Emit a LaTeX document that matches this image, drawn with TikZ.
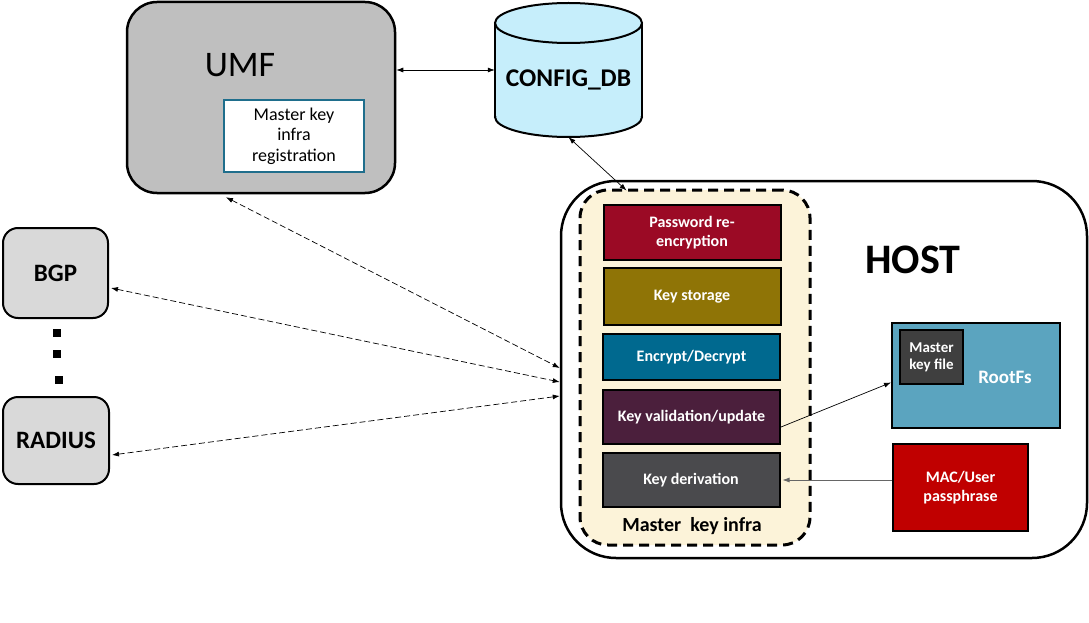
\documentclass[tikz,border=0pt]{standalone}
\usepackage{fontspec}
\setmainfont{Carlito}
\usetikzlibrary{arrows.meta,calc}

\definecolor{umfgray}{HTML}{BFBFBF}
\definecolor{regteal}{HTML}{1F6E8C}
\definecolor{dbblue}{HTML}{C6EEFB}
\definecolor{infracream}{HTML}{FCF3D9}
\definecolor{pwred}{HTML}{9B0A25}
\definecolor{ksolive}{HTML}{8F7406}
\definecolor{edteal}{HTML}{00698F}
\definecolor{kvplum}{HTML}{4B1F3C}
\definecolor{kdgray}{HTML}{4A4A4D}
\definecolor{rootblue}{HTML}{5BA4BF}
\definecolor{mkfgray}{HTML}{3F3F3F}
\definecolor{macred}{HTML}{C00000}
\definecolor{nodegray}{HTML}{D9D9D9}

\tikzset{
  bigbox/.style={draw=black, line width=2.5pt, inner sep=0pt},
  keybox/.style={draw=black, line width=2pt, text=white, align=center, minimum width=177pt,
    font=\fontsize{16}{18.5}\selectfont\bfseries},
  peerbox/.style={draw=black, line width=2pt, fill=nodegray, rounded corners=15pt,
    font=\fontsize{25}{28}\selectfont\bfseries},
  link/.style={line width=0.7pt, -{Latex[length=7pt,width=5pt]}},
  dlink/.style={line width=0.7pt, dash pattern=on 6pt off 3pt,
    {Latex[length=7pt,width=5pt]}-{Latex[length=7pt,width=5pt]}},
  blink/.style={line width=0.7pt, {Latex[length=7pt,width=5pt]}-{Latex[length=7pt,width=5pt]}}
}

\begin{document}
\begin{tikzpicture}[x=1pt,y=-1pt]
    \useasboundingbox (0,0) rectangle (1089,623);

    % UMF
    \node[bigbox, fill=umfgray, rounded corners=30pt, minimum width=268pt, minimum height=191pt] (umf) at (261,97.5) {};
    \node[font=\fontsize{36}{40}\selectfont] (umflbl) at (240,65) {UMF};
    \node[draw=regteal, line width=2pt, fill=white, minimum width=140pt, minimum height=72pt, align=center,
      font=\fontsize{18}{20.5}\selectfont] (reg) at (294,136) {Master key\\infra\\registration};

    % CONFIG_DB cylinder
    \fill[dbblue] (495,23) rectangle (642,117);
    \fill[dbblue] (568.5,117) ellipse [x radius=73.5pt, y radius=20pt];
    \draw[line width=2pt] (495,23) -- (495,117) (642,23) -- (642,117);
    \begin{scope}
      \clip (480,117) rectangle (660,150);
      \draw[line width=2pt] (568.5,117) ellipse [x radius=73.5pt, y radius=20pt];
    \end{scope}
    \draw[line width=2pt, fill=dbblue] (568.5,23) ellipse [x radius=73.5pt, y radius=20pt];
    \node[minimum width=147pt, minimum height=134pt] (db) at (568.5,70) {};
    \node[font=\fontsize{25.5}{28}\selectfont\bfseries] (dblbl) at (568.5,80) {CONFIG\_DB};

    % HOST
    \node[bigbox, fill=white, rounded corners=55pt, minimum width=526pt, minimum height=377pt] (host) at (824,369.5) {};
    \node[font=\fontsize{42}{46}\selectfont\bfseries] (hostlbl) at (913,260) {HOST};
    \node[draw=black, line width=3pt, dash pattern=on 10pt off 6pt, rounded corners=28pt, fill=infracream,
      minimum width=230pt, minimum height=355pt] (infra) at (695,367.5) {};
    \node[font=\fontsize{20}{24}\selectfont\bfseries] (infralbl) at (692,526) {Master\ \ key infra};

    \node[keybox, fill=pwred, minimum height=55pt] (pw) at (692,232.5) {Password re-\\encryption};
    \node[keybox, fill=ksolive, minimum height=57pt] (ks) at (692,296.5) {Key storage};
    \node[keybox, fill=edteal, minimum height=46pt] (ed) at (691.5,357) {Encrypt/Decrypt};
    \node[keybox, fill=kvplum, minimum height=54pt] (kv) at (691.5,417) {Key validation/update};
    \node[keybox, fill=kdgray, minimum height=54pt] (kd) at (691,480) {Key derivation};

    \node[draw=black, line width=2pt, fill=rootblue, minimum width=168pt, minimum height=105pt] (rootfs) at (976,375.5) {};
    \node[draw=black, line width=2pt, fill=mkfgray, text=white, align=center, minimum width=63pt, minimum height=54pt,
      inner sep=1pt, font=\fontsize{15}{17}\selectfont\bfseries] (mkf) at (931.5,357) {Master\\key file};
    \node[text=white, font=\fontsize{19}{22}\selectfont\bfseries] (rootlbl) at (1005,377) {RootFs};
    \node[draw=black, line width=2pt, fill=macred, text=white, align=center, minimum width=135pt, minimum height=87pt,
      font=\fontsize{16}{19}\selectfont\bfseries] (mac) at (960.5,487.5) {MAC/User\\passphrase};

    % peers
    \node[peerbox, minimum width=105pt, minimum height=90pt] (bgp) at (55.5,273) {BGP};
    \node[peerbox, minimum width=106pt, minimum height=87pt] (radius) at (56,440.5) {RADIUS};
    \foreach \x/\y in {57/333,57/354,59/380}
      \fill (\x-4,\y-4) rectangle (\x+4,\y+4);

    % links
    \draw[blink] (umf.east |- db.west) -- (db.west);
    \draw[blink] (db.south) -- ($(infra.north west)+(48,2)$);
    \draw[dlink] ($(umf.south)+(-35,3)$) -- ($(host.west)+(0,-1.5)$);
    \draw[dlink] ($(bgp.east)+(2,15)$) -- ($(host.west)+(0,12.5)$);
    \draw[dlink] ($(radius.east)+(2,14.5)$) -- ($(host.west)+(0,26.5)$);
    \draw[link] ($(kv.east)+(0,10)$) -- ($(rootfs.west)+(0,7)$);
    \draw[link, draw=black!60] (mac.west |- kd.east) -- ($(kd.east)+(2,0)$);
\end{tikzpicture}
\end{document}
